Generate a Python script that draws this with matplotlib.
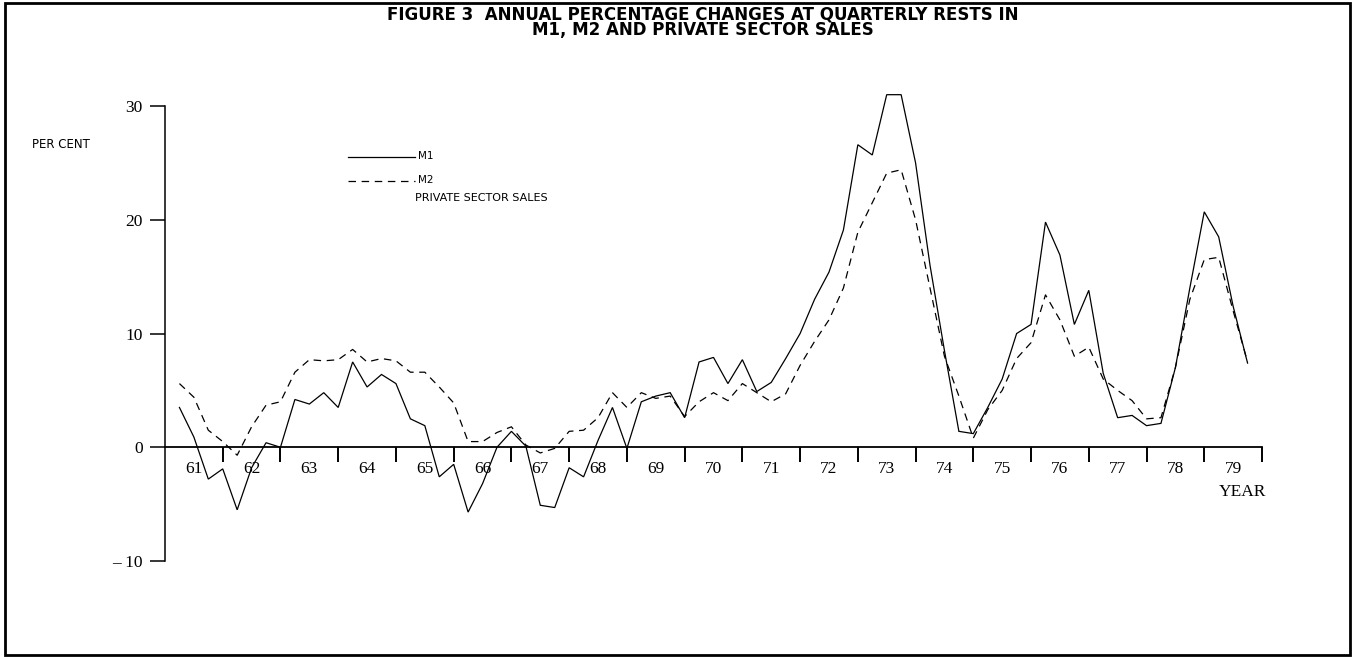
import matplotlib
matplotlib.use("Agg")
import matplotlib.pyplot as plt
from matplotlib.lines import Line2D
from matplotlib.patches import Rectangle
import numpy as np

# ---- data (annual % change at quarterly rests, 1961Q1 .. 1979Q3) ----
years = list(range(61, 80))          # year labels on the x axis
quarters_per_year = 4
m1 = [3.5, 0.9, -2.8, -1.9,
      -5.5, -1.8, 0.4, 0.0,
      4.2, 3.8, 4.8, 3.5,
      7.5, 5.3, 6.4, 5.6,
      2.5, 1.9, -2.6, -1.5,
      -5.7, -3.2, 0.0, 1.4,
      0.1, -5.1, -5.3, -1.8,
      -2.6, 0.6, 3.5, -0.1,
      4.0, 4.5, 4.8, 2.6,
      7.5, 7.9, 5.6, 7.7,
      4.9, 5.7, 7.8, 10.0,
      13.0, 15.4, 19.1, 26.6,
      25.7, 31.0, 31.0, 25.0,
      16.0, 8.5, 1.4, 1.2,
      3.5, 6.0, 10.0, 10.8,
      19.8, 16.9, 10.8, 13.8,
      6.5, 2.6, 2.8, 1.9,
      2.1, 7.0, 14.0, 20.7,
      18.5, 12.4, 7.4]
m2 = [5.6, 4.4, 1.5, 0.5,
      -0.7, 1.8, 3.7, 4.0,
      6.6, 7.7, 7.6, 7.7,
      8.6, 7.5, 7.8, 7.6,
      6.6, 6.6, 5.3, 3.9,
      0.5, 0.5, 1.3, 1.8,
      0.2, -0.5, -0.1, 1.4,
      1.5, 2.6, 4.8, 3.5,
      4.8, 4.3, 4.5, 2.7,
      4.0, 4.8, 4.1, 5.6,
      4.8, 4.0, 4.7, 7.2,
      9.3, 11.2, 14.0, 18.9,
      21.5, 24.1, 24.4, 20.0,
      14.0, 8.0, 4.5, 0.8,
      3.3, 5.0, 7.8, 9.2,
      13.4, 11.2, 8.0, 8.8,
      6.0, 5.0, 4.1, 2.5,
      2.6, 7.0, 13.0, 16.5,
      16.7, 12.0, 7.5]
y_ticks = [30, 20, 10, 0, -10]
y_ticklabels = ["30", "20", "10", "0", "\u2013 10"]

# quarter-end positions
x = [years[0] + (i + 1) / quarters_per_year for i in range(len(m1))]

W, H = 1357, 657
fig = plt.figure(figsize=(W / 100, H / 100), dpi=100)
fig.patch.set_facecolor("white")

def fx(px):
    return px / W

def fy(py):
    return 1 - py / H

DASH = (6, 4.5)

ax = fig.add_axes([fx(165), fy(561), fx(1262) - fx(165), fy(89) - fy(561)])
ax.set_xlim(years[0], years[-1] + 1)
ax.set_ylim(-10, 31.5)
ax.patch.set_alpha(0)

ax.plot(x, m1, color="black", lw=0.9, solid_joinstyle="miter")
ax.plot(x, m2, color="black", lw=0.9, dashes=DASH)

for s in ["top", "right"]:
    ax.spines[s].set_visible(False)
ax.spines["bottom"].set_position(("data", 0))
ax.spines["bottom"].set_linewidth(1.3)
ax.spines["left"].set_linewidth(1.1)
ax.spines["left"].set_bounds(-10, 30)

serif = ["Liberation Serif", "DejaVu Serif"]
ax.set_xticks([y + 1 for y in years])
ax.set_xticklabels([])
ax.set_xticks([y + 0.5 for y in years], minor=True)
ax.set_xticklabels([str(y) for y in years], minor=True, fontsize=12.5, family=serif)
ax.tick_params(axis="x", which="major", direction="out", length=11, width=1.4)
ax.tick_params(axis="x", which="minor", length=0, pad=10)

ax.set_yticks(y_ticks)
ax.set_yticklabels(y_ticklabels, fontsize=12.5, family=serif)
ax.tick_params(axis="y", direction="out", length=11, width=1.1, pad=5)

fig.text(fx(1242), fy(492), "YEAR", ha="center", va="center", fontsize=12.5, family=serif)

# titles
fig.text(fx(703), fy(14), "FIGURE 3  ANNUAL PERCENTAGE CHANGES AT QUARTERLY RESTS IN",
         ha="center", va="center", fontsize=12, fontweight="bold", family=["DejaVu Sans"])
fig.text(fx(703), fy(30), "M1, M2 AND PRIVATE SECTOR SALES",
         ha="center", va="center", fontsize=12, fontweight="bold", family=["DejaVu Sans"])

fig.text(fx(32), fy(145), "PER CENT", ha="left", va="center", fontsize=8.5)

# legend drawn manually
fig.add_artist(Line2D([fx(348), fx(415)], [fy(157), fy(157)], color="black", lw=0.9))
fig.add_artist(Line2D([fx(348), fx(415)], [fy(181), fy(181)], color="black", lw=0.9, dashes=DASH))
fig.text(fx(418), fy(156), "M1", ha="left", va="center", fontsize=7.5)
fig.text(fx(418), fy(180), "M2", ha="left", va="center", fontsize=7.5)
fig.text(fx(415), fy(198), "PRIVATE SECTOR SALES", ha="left", va="center", fontsize=8)

# frame around the figure
fig.add_artist(Rectangle((fx(5), fy(655)), fx(1350) - fx(5), fy(3) - fy(655),
                         transform=fig.transFigure, fill=False, lw=2, color="black"))

fig.savefig("out.png", dpi=100)
